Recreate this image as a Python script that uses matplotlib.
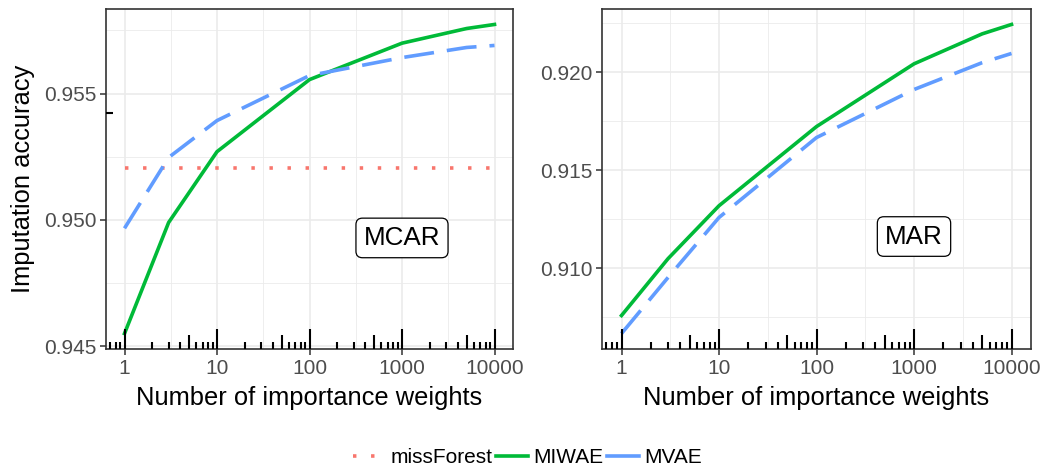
import numpy as np
import matplotlib

matplotlib.use("Agg")
import matplotlib.pyplot as plt
from matplotlib.lines import Line2D

plt.rcParams["font.family"] = ["Liberation Sans", "DejaVu Sans"]

# number of importance weights evaluated
n_weights = [1, 3, 10, 100, 1000, 5000, 10000]

# MCAR panel
mcar_miwae = [0.94551, 0.94990, 0.95270, 0.95555, 0.95699, 0.95757, 0.95773]
mcar_mvae = [0.94967, 0.95247, 0.95393, 0.95571, 0.95642, 0.95682, 0.95690]
mcar_missforest = 0.95204

# MAR panel
mar_miwae = [0.90760, 0.91050, 0.91320, 0.91724, 0.92044, 0.92197, 0.92245]
mar_mvae = [0.90668, 0.90954, 0.91260, 0.91668, 0.91913, 0.92050, 0.92097]

panel_labels = ["MCAR", "MAR"]
label_pos = [(1000, 0.94929), (1000, 0.91163)]
x_ticks = [1, 10, 100, 1000, 10000]
y_ticks = [[0.945, 0.950, 0.955], [0.910, 0.915, 0.920]]

C_MF = "#F8766D"
C_MIWAE = "#00BA38"
C_MVAE = "#619CFF"
GRID = "#EBEBEB"
DARK = "#333333"

LW = 2.6
DOT = (0, (0.95, 4.05))
LONGDASH = (0, (8.3, 3.6))


def expand(vals, frac=0.05):
    lo, hi = min(vals), max(vals)
    pad = (hi - lo) * frac
    return lo - pad, hi + pad


def log_ticks(ax, xlim, ylim):
    # annotation_logticks style marks along bottom and left edges
    box = ax.get_window_extent()
    lengths = {"short": 7, "mid": 14, "long": 20}
    xt = ax.get_xaxis_transform()
    yt = ax.get_yaxis_transform()
    for k in range(-1, 5):
        for m in range(1, 10):
            v = m * 10.0 ** k
            if not (xlim[0] <= v <= xlim[1]):
                continue
            kind = "long" if m == 1 else ("mid" if m == 5 else "short")
            ax.plot([v, v], [0, lengths[kind] / box.height], transform=xt,
                    color="black", lw=1.5, solid_capstyle="butt", zorder=4,
                    clip_on=False)
    for m in range(1, 11):
        v = np.log10(m)
        if not (ylim[0] <= v <= ylim[1]):
            continue
        kind = "long" if m in (1, 10) else ("mid" if m == 5 else "short")
        ax.plot([0, lengths[kind] / box.width], [v, v], transform=yt,
                color="black", lw=1.5, solid_capstyle="butt", zorder=4,
                clip_on=False)


def style_axes(ax, ylim, yt):
    xlim = (10 ** -0.2, 10 ** 4.2)
    ax.set_xscale("log")
    ax.set_xlim(*xlim)
    ax.set_ylim(*ylim)
    ax.set_xticks(x_ticks)
    ax.set_xticklabels([str(t) for t in x_ticks])
    ax.set_xticks([10 ** (k + 0.5) for k in range(0, 4)], minor=True)
    ax.xaxis.set_minor_formatter(plt.NullFormatter())
    ax.set_yticks(yt)
    ax.set_yticklabels([f"{t:.3f}" for t in yt])
    step = yt[1] - yt[0]
    ym = np.arange(yt[0] - step / 2, ylim[1], step)
    ax.set_yticks([v for v in ym if ylim[0] <= v <= ylim[1]], minor=True)
    ax.grid(which="major", color=GRID, lw=1.2)
    ax.grid(which="minor", color=GRID, lw=0.6)
    ax.set_axisbelow(True)
    for s in ax.spines.values():
        s.set_color(DARK)
        s.set_linewidth(1.2)
    ax.tick_params(which="major", length=4, width=1.1, color=DARK,
                   labelcolor="#4D4D4D", labelsize=15, pad=3)
    ax.tick_params(which="minor", length=0)
    ax.set_xlabel("Number of importance weights", fontsize=18.4, labelpad=6)
    log_ticks(ax, xlim, ylim)


fig = plt.figure(figsize=(10.55, 4.68), dpi=100)
ax1 = fig.add_axes([106 / 1055, 1 - 349 / 468, 407 / 1055, 340 / 468])
ax2 = fig.add_axes([602 / 1055, 1 - 349 / 468, 429 / 1055, 340 / 468])

# MCAR
ax1.plot([n_weights[0], n_weights[-1]], [mcar_missforest] * 2, color=C_MF,
         lw=LW, linestyle=DOT, dash_capstyle="butt", zorder=3)
ax1.plot(n_weights, mcar_miwae, color=C_MIWAE, lw=LW, zorder=3)
ax1.plot(n_weights, mcar_mvae, color=C_MVAE, lw=LW, linestyle=LONGDASH,
         dash_capstyle="butt", zorder=3)
style_axes(ax1, expand(mcar_miwae + mcar_mvae + [mcar_missforest]), y_ticks[0])
ax1.set_ylabel("Imputation accuracy", fontsize=18.4, labelpad=6)

# MAR
ax2.plot(n_weights, mar_miwae, color=C_MIWAE, lw=LW, zorder=3)
ax2.plot(n_weights, mar_mvae, color=C_MVAE, lw=LW, linestyle=LONGDASH,
         dash_capstyle="butt", zorder=3)
style_axes(ax2, expand(mar_miwae + mar_mvae), y_ticks[1])

for ax, lab, (lx, ly) in zip([ax1, ax2], panel_labels, label_pos):
    ax.text(lx, ly, lab, fontsize=18.7, ha="center", va="center", zorder=5,
            bbox=dict(boxstyle="round,pad=0.3,rounding_size=0.25",
                      fc="white", ec="black", lw=0.9))

handles = [
    Line2D([], [], color=C_MF, lw=LW, linestyle=DOT, dash_capstyle="butt"),
    Line2D([], [], color=C_MIWAE, lw=LW),
    Line2D([], [], color=C_MVAE, lw=LW),
]
fig.legend(handles, ["missForest", "MIWAE", "MVAE"], loc="center",
           bbox_to_anchor=(0.5, 0.022), ncol=3, frameon=False, fontsize=15,
           handlelength=1.55, handletextpad=0.25, columnspacing=0.15,
           borderaxespad=0)

fig.savefig("out.png", dpi=100)
